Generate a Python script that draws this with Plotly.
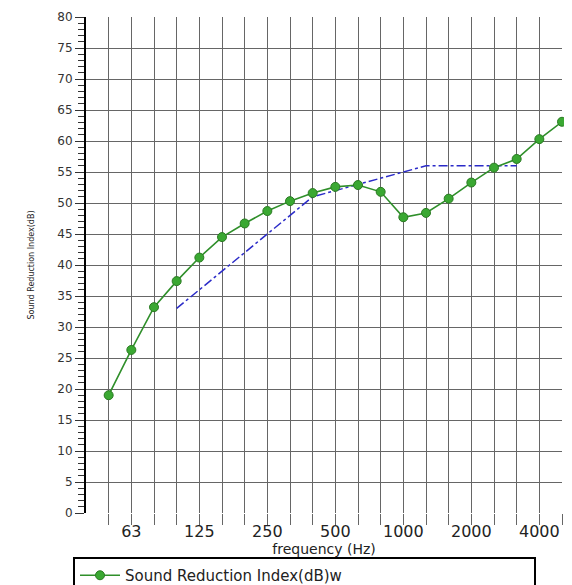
import plotly.graph_objects as go

freqs = ["50", "63", "80", "100", "125", "160", "200", "250", "315", "400", "500",
         "630", "800", "1000", "1250", "1600", "2000", "2500", "3150", "4000", "5000"]
sri = [19, 26.3, 33.2, 37.4, 41.2, 44.5, 46.7, 48.7, 50.3, 51.6, 52.6,
       52.9, 51.8, 47.7, 48.4, 50.7, 53.3, 55.7, 57.1, 60.3, 63.1]
ref_freqs = ["100", "125", "160", "200", "250", "315", "400", "500",
             "630", "800", "1000", "1250", "1600", "2000", "2500", "3150"]
ref_vals = [33, 36, 39, 42, 45, 48, 51, 52, 53, 54, 55, 56, 56, 56, 56, 56]
tick_labels = ["63", "125", "250", "500", "1000", "2000", "4000"]

idx = {f: i for i, f in enumerate(freqs)}
x_sri = [idx[f] for f in freqs]
x_ref = [idx[f] for f in ref_freqs]

W, H = 564, 577  # page body adds an 8px offset

fig = go.Figure()
fig.add_trace(go.Scatter(
    x=x_ref, y=ref_vals, mode="lines", showlegend=False,
    line=dict(color="#2b2bc8", width=1.5, dash="dashdot"),
))
fig.add_trace(go.Scatter(
    x=x_sri, y=sri, mode="lines+markers", name="Sound Reduction Index(dB)w",
    cliponaxis=False,
    line=dict(color="#2f8f2a", width=1.6),
    marker=dict(symbol="circle", size=9, color="#3aa832", line=dict(color="#2a7a22", width=1)),
))

ticktext = [f if f in tick_labels else "" for f in freqs]

fig.update_layout(
    width=W, height=H,
    margin=dict(l=78, r=10, t=9, b=72, autoexpand=False),
    paper_bgcolor="white", plot_bgcolor="white",
    font=dict(family="DejaVu Sans, Arial, sans-serif", color="#222"),
    xaxis=dict(
        range=[-1, 20], tickmode="array", tickvals=x_sri, ticktext=ticktext,
        showgrid=True, gridcolor="#666", gridwidth=1.3,
        ticks="outside", ticklen=11, tickwidth=1.3, tickcolor="#666",
        tickfont=dict(size=16, color="#222"), ticklabelstandoff=-7,
        showline=False, zeroline=False, automargin=True,
        title=dict(text="frequency (Hz)", font=dict(size=14, color="#222"), standoff=9),
    ),
    yaxis=dict(
        range=[0, 80], tickmode="linear", tick0=0, dtick=5,
        showgrid=True, gridcolor="#666", gridwidth=1.3,
        ticks="outside", ticklen=9, tickwidth=1.2, tickcolor="#333",
        tickfont=dict(size=12, color="#333"),
        minor=dict(dtick=1, ticks="outside", ticklen=6, tickcolor="#333", tickwidth=1, showgrid=False),
        showline=True, linecolor="black", linewidth=2, zeroline=False, automargin=False,
        title=dict(text="Sound Reduction Index(dB)", font=dict(size=8, color="#222"), standoff=22),
    ),
    legend=dict(
        orientation="h", xref="container", yref="container",
        x=65 / W, xanchor="left", y=1 - 549 / H, yanchor="top",
        bordercolor="black", borderwidth=2, bgcolor="rgba(255,255,255,0)",
        font=dict(size=15, color="#222"), entrywidth=404, entrywidthmode="pixels",
        itemwidth=40,
    ),
)

fig.write_html("out.html")
